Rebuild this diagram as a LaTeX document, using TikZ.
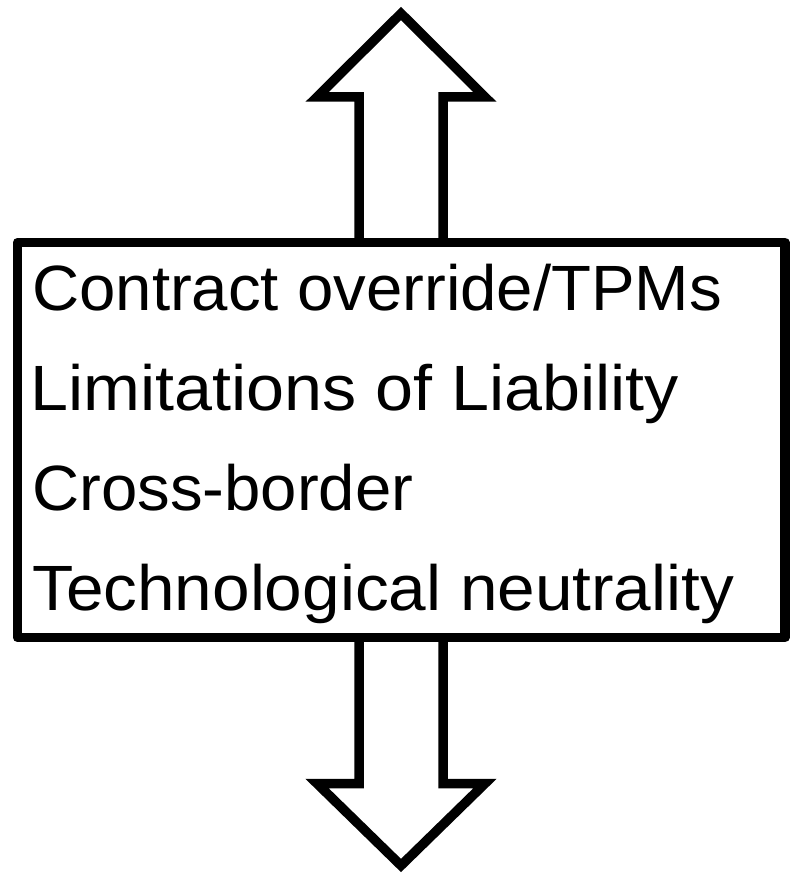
\documentclass[tikz,border=0pt]{standalone}
\usepackage{fontspec}
\usepackage{graphicx}
\setmainfont{Liberation Sans}
\newcommand{\fitline}[2]{\resizebox{#1}{\height}{#2}}
\begin{document}
\begin{tikzpicture}[x=1pt,y=-1pt,
  outline/.style={draw=black,line width=9.5pt},
  label/.style={anchor=base west,inner sep=0pt,font=\fontsize{64}{76}\selectfont}]
\useasboundingbox (0,0) rectangle (797,874);
% up arrow
\draw[outline,line join=miter] (359,242) -- (359,97) -- (317,97) -- (401,13.5) -- (485,97) -- (443,97) -- (443,242);
% down arrow
\draw[outline,line join=miter] (359,637.5) -- (359,783.5) -- (317,783.5) -- (401,865.5) -- (485,783.5) -- (443,783.5) -- (443,637.5);
% box
\draw[outline,line join=round] (17.5,242.5) rectangle (785,637.5);
\node[label] (t1) at (32,310) {\fitline{690pt}{Contract override/TPMs}};
\node[label] (t2) at (30,410) {\fitline{649pt}{Limitations of Liability}};
\node[label] (t3) at (32,510) {\fitline{381pt}{Cross-border}};
\node[label] (t4) at (32,610) {\fitline{702pt}{Technological neutrality}};
\end{tikzpicture}
\end{document}
